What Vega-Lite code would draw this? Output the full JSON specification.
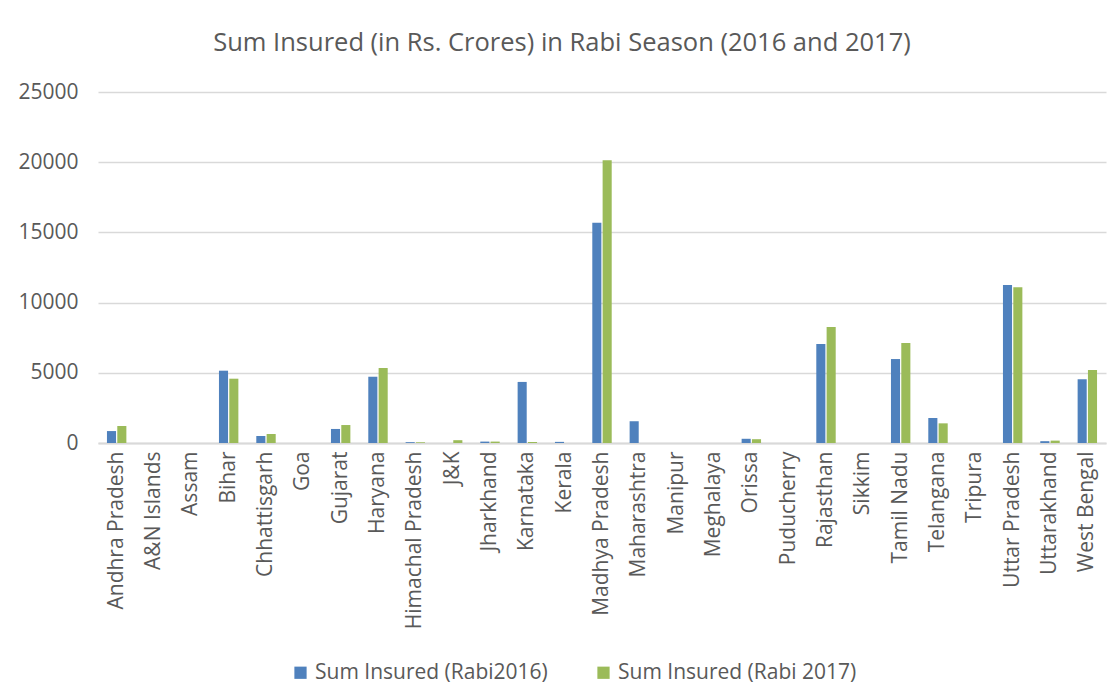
{
  "$schema": "https://vega.github.io/schema/vega-lite/v6.json",
  "width": 1008,
  "height": 351,
  "padding": {"left": 17, "top": 30, "right": 7, "bottom": 10},
  "background": "white",
  "title": {
    "text": "Sum Insured (in Rs. Crores) in Rabi Season (2016 and 2017)",
    "fontSize": 25.5,
    "font": "Open Sans",
    "fontWeight": "normal",
    "color": "#595959",
    "offset": 25,
    "anchor": "middle",
    "frame": "bounds"
  },
  "data": {
    "values": [
      {"state": "Andhra Pradesh", "series": "Sum Insured (Rabi2016)", "value": 850},
      {"state": "Andhra Pradesh", "series": "Sum Insured (Rabi 2017)", "value": 1210},
      {"state": "A&N Islands", "series": "Sum Insured (Rabi2016)", "value": 0},
      {"state": "A&N Islands", "series": "Sum Insured (Rabi 2017)", "value": 0},
      {"state": "Assam", "series": "Sum Insured (Rabi2016)", "value": 0},
      {"state": "Assam", "series": "Sum Insured (Rabi 2017)", "value": 0},
      {"state": "Bihar", "series": "Sum Insured (Rabi2016)", "value": 5150},
      {"state": "Bihar", "series": "Sum Insured (Rabi 2017)", "value": 4580},
      {"state": "Chhattisgarh", "series": "Sum Insured (Rabi2016)", "value": 500},
      {"state": "Chhattisgarh", "series": "Sum Insured (Rabi 2017)", "value": 640},
      {"state": "Goa", "series": "Sum Insured (Rabi2016)", "value": 0},
      {"state": "Goa", "series": "Sum Insured (Rabi 2017)", "value": 0},
      {"state": "Gujarat", "series": "Sum Insured (Rabi2016)", "value": 1000},
      {"state": "Gujarat", "series": "Sum Insured (Rabi 2017)", "value": 1280},
      {"state": "Haryana", "series": "Sum Insured (Rabi2016)", "value": 4720},
      {"state": "Haryana", "series": "Sum Insured (Rabi 2017)", "value": 5340},
      {"state": "Himachal Pradesh", "series": "Sum Insured (Rabi2016)", "value": 60},
      {"state": "Himachal Pradesh", "series": "Sum Insured (Rabi 2017)", "value": 50},
      {"state": "J&K", "series": "Sum Insured (Rabi2016)", "value": 0},
      {"state": "J&K", "series": "Sum Insured (Rabi 2017)", "value": 200},
      {"state": "Jharkhand", "series": "Sum Insured (Rabi2016)", "value": 100},
      {"state": "Jharkhand", "series": "Sum Insured (Rabi 2017)", "value": 100},
      {"state": "Karnataka", "series": "Sum Insured (Rabi2016)", "value": 4350},
      {"state": "Karnataka", "series": "Sum Insured (Rabi 2017)", "value": 70},
      {"state": "Kerala", "series": "Sum Insured (Rabi2016)", "value": 80},
      {"state": "Kerala", "series": "Sum Insured (Rabi 2017)", "value": 0},
      {"state": "Madhya Pradesh", "series": "Sum Insured (Rabi2016)", "value": 15690},
      {"state": "Madhya Pradesh", "series": "Sum Insured (Rabi 2017)", "value": 20135},
      {"state": "Maharashtra", "series": "Sum Insured (Rabi2016)", "value": 1550},
      {"state": "Maharashtra", "series": "Sum Insured (Rabi 2017)", "value": 0},
      {"state": "Manipur", "series": "Sum Insured (Rabi2016)", "value": 0},
      {"state": "Manipur", "series": "Sum Insured (Rabi 2017)", "value": 0},
      {"state": "Meghalaya", "series": "Sum Insured (Rabi2016)", "value": 0},
      {"state": "Meghalaya", "series": "Sum Insured (Rabi 2017)", "value": 0},
      {"state": "Orissa", "series": "Sum Insured (Rabi2016)", "value": 300},
      {"state": "Orissa", "series": "Sum Insured (Rabi 2017)", "value": 270},
      {"state": "Puducherry", "series": "Sum Insured (Rabi2016)", "value": 0},
      {"state": "Puducherry", "series": "Sum Insured (Rabi 2017)", "value": 0},
      {"state": "Rajasthan", "series": "Sum Insured (Rabi2016)", "value": 7050},
      {"state": "Rajasthan", "series": "Sum Insured (Rabi 2017)", "value": 8260},
      {"state": "Sikkim", "series": "Sum Insured (Rabi2016)", "value": 0},
      {"state": "Sikkim", "series": "Sum Insured (Rabi 2017)", "value": 0},
      {"state": "Tamil Nadu", "series": "Sum Insured (Rabi2016)", "value": 5980},
      {"state": "Tamil Nadu", "series": "Sum Insured (Rabi 2017)", "value": 7120},
      {"state": "Telangana", "series": "Sum Insured (Rabi2016)", "value": 1780},
      {"state": "Telangana", "series": "Sum Insured (Rabi 2017)", "value": 1400},
      {"state": "Tripura", "series": "Sum Insured (Rabi2016)", "value": 0},
      {"state": "Tripura", "series": "Sum Insured (Rabi 2017)", "value": 0},
      {"state": "Uttar Pradesh", "series": "Sum Insured (Rabi2016)", "value": 11250},
      {"state": "Uttar Pradesh", "series": "Sum Insured (Rabi 2017)", "value": 11100},
      {"state": "Uttarakhand", "series": "Sum Insured (Rabi2016)", "value": 130},
      {"state": "Uttarakhand", "series": "Sum Insured (Rabi 2017)", "value": 170},
      {"state": "West Bengal", "series": "Sum Insured (Rabi2016)", "value": 4540},
      {"state": "West Bengal", "series": "Sum Insured (Rabi 2017)", "value": 5200}
    ]
  },
  "mark": {"type": "bar"},
  "encoding": {
    "x": {
      "field": "state",
      "type": "nominal",
      "sort": null,
      "scale": {"paddingInner": 0.48, "paddingOuter": 0.24},
      "axis": {
        "title": null,
        "labelAngle": -90,
        "labelFontSize": 21,
        "labelFont": "Open Sans",
        "labelColor": "#595959",
        "labelPadding": 8,
        "ticks": false,
        "domainColor": "#D9D9D9",
        "domainWidth": 2,
        "grid": false
      }
    },
    "xOffset": {
      "field": "series",
      "type": "nominal",
      "sort": ["Sum Insured (Rabi2016)", "Sum Insured (Rabi 2017)"],
      "scale": {"paddingInner": 0.12}
    },
    "y": {
      "field": "value",
      "type": "quantitative",
      "scale": {"domain": [0, 25000]},
      "axis": {
        "title": null,
        "values": [0, 5000, 10000, 15000, 20000, 25000],
        "format": "d",
        "labelFontSize": 21,
        "labelFont": "Open Sans",
        "labelColor": "#595959",
        "labelPadding": 20,
        "ticks": false,
        "domain": false,
        "gridColor": "#D9D9D9",
        "gridWidth": 1.3
      }
    },
    "color": {
      "field": "series",
      "type": "nominal",
      "sort": ["Sum Insured (Rabi2016)", "Sum Insured (Rabi 2017)"],
      "scale": {"range": ["#4F81BD", "#9BBB59"]},
      "legend": {
        "title": null,
        "orient": "none",
        "direction": "horizontal",
        "legendX": 192,
        "legendY": 570,
        "symbolType": "square",
        "symbolSize": 150,
        "symbolStrokeWidth": 0,
        "labelFontSize": 21,
        "labelFont": "Open Sans",
        "labelColor": "#595959",
        "columnPadding": 45,
        "labelLimit": 400
      }
    }
  },
  "config": {
    "view": {"stroke": null}
  }
}
